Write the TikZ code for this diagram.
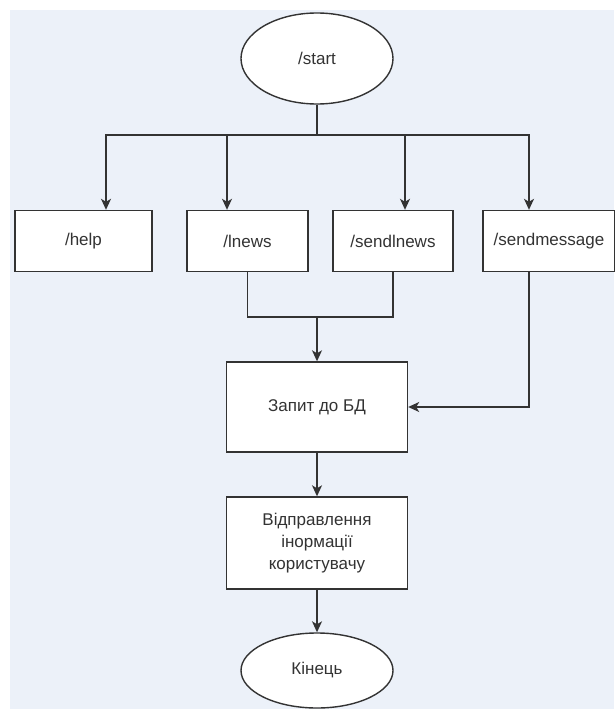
\documentclass[tikz,border=0pt]{standalone}
\usepackage{fontspec}
\setmainfont{Liberation Sans}
\usetikzlibrary{shapes.geometric,arrows.meta}
\definecolor{bgblue}{HTML}{ECF1F9}
\definecolor{ink}{HTML}{333333}
\begin{document}
\begin{tikzpicture}[x=1pt,y=-1pt,
  every node/.style={font=\fontsize{17}{22}\selectfont,text=ink},
  cmd/.style={draw=ink,fill=white,line width=1.4pt,minimum height=61pt,inner sep=0pt,align=center},
  term/.style={ellipse,draw=ink,fill=white,line width=1.4pt,minimum width=152pt,inner sep=0pt},
  flow/.style={-{Stealth[length=11pt,width=10pt,inset=3pt]},line width=1.4pt,draw=ink}]
% Canvas
\useasboundingbox (0,0) rectangle (614,709);
\fill[bgblue] (10,10) rectangle (614,709);

% Start and commands
\node[term,minimum height=91pt] (start) at (317,58.5) {/start};
\node[cmd,minimum width=137pt] (help) at (83.5,241) {/help};
\node[cmd,minimum width=121pt] (lnews) at (247.5,241) {/lnews};
\node[cmd,minimum width=120pt] (sendlnews) at (393,241) {/sendlnews};
\node[cmd,minimum width=132pt] (sendmsg) at (549,241) {/sendmessage};

% Processing and end
\node[cmd,minimum width=181pt,minimum height=90pt] (query) at (317,407) {Запит до БД};
\node[cmd,minimum width=181pt,minimum height=92pt] (reply) at (317,543) {Відправлення\\інормації\\користувачу};
\node[term,minimum height=75pt] (finish) at (317,670.5) {Кінець};

% Branching from /start
\coordinate (bus) at (317,135);
\draw[line width=1.4pt,draw=ink] (start.south) -- (bus);
\draw[flow] (bus) -| ([xshift=22.5pt]help.north);
\draw[flow] (bus) -| ([xshift=-20.5pt]lnews.north);
\draw[flow] (bus) -| ([xshift=12pt]sendlnews.north);
\draw[flow] (bus) -| ([xshift=-20pt]sendmsg.north);

% Joining into the query
\coordinate (merge) at (317,317);
\draw[line width=1.4pt,draw=ink] (lnews.south) |- (merge) -| (sendlnews.south);
\draw[flow] (merge) -- (query.north);
\draw[flow] ([xshift=-20pt]sendmsg.south) |- (query.east);

% To the end
\draw[flow] (query) -- (reply);
\draw[flow] (reply) -- (finish);
\end{tikzpicture}
\end{document}
